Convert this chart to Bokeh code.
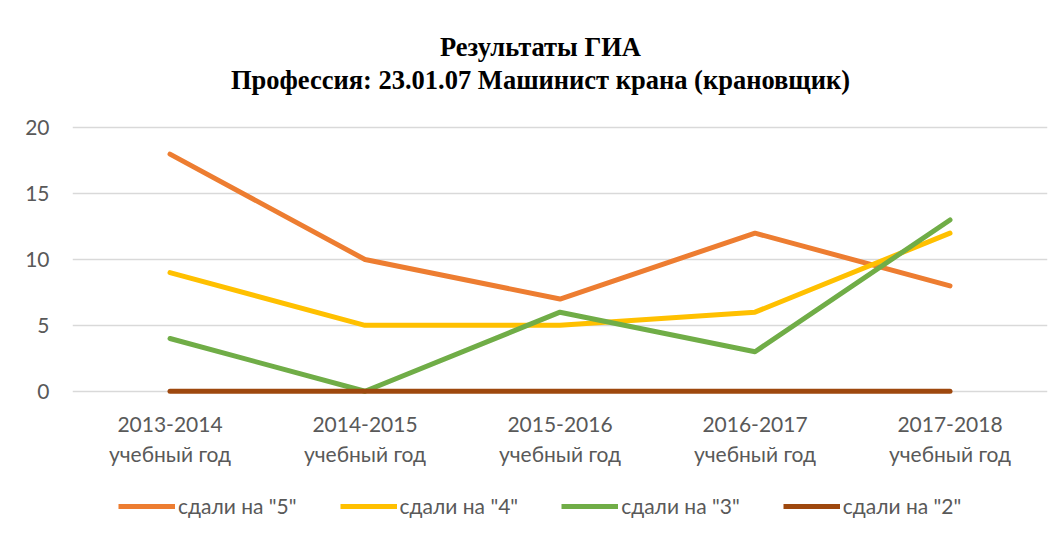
from bokeh.plotting import figure
from bokeh.models import Range1d, FactorRange, Legend, LegendItem, Label, ColumnDataSource
from bokeh.layouts import column
from bokeh.embed import file_html
from bokeh.resources import INLINE

categories = ["2013-2014\nучебный год", "2014-2015\nучебный год", "2015-2016\nучебный год",
              "2016-2017\nучебный год", "2017-2018\nучебный год"]
s5 = [18, 10, 7, 12, 8]
s4 = [9, 5, 5, 6, 12]
s3 = [4, 0, 6, 3, 13]
s2 = [0, 0, 0, 0, 0]
series_names = ['сдали на "5"', 'сдали на "4"', 'сдали на "3"', 'сдали на "2"']
colors = ["#ED7D31", "#FFC000", "#70AD47", "#9E480E"]
y_ticks = [0, 5, 10, 15, 20]
title_lines = ["Результаты ГИА", "Профессия: 23.01.07 Машинист крана (крановщик)"]

FONT = "Lato"
GREY = "#595959"
series = [s5, s4, s3, s2]

# ---- main chart ----
p = figure(frame_width=975, frame_height=376, x_range=FactorRange(*categories, range_padding=0),
           y_range=Range1d(-0.4, 28.14), output_backend="svg", toolbar_location=None,
           min_border_left=72, min_border_right=14, min_border_top=20, min_border_bottom=90)
p.outline_line_color = None
p.background_fill_color = "white"
p.border_fill_color = "white"

for vals, c in zip(series, colors):
    src = ColumnDataSource(dict(x=categories, y=vals))
    p.line("x", "y", source=src, line_color=c, line_width=5, line_join="round", line_cap="round")

p.yaxis.ticker = y_ticks
p.yaxis.axis_line_color = None
p.yaxis.major_tick_line_color = None
p.yaxis.minor_tick_line_color = None
p.yaxis.major_label_text_font = FONT
p.yaxis.major_label_text_font_size = "21px"
p.yaxis.major_label_text_color = GREY
p.yaxis.major_label_standoff = 17

p.xaxis.axis_line_color = None
p.xaxis.major_tick_line_color = None
p.xaxis.major_label_text_font = FONT
p.xaxis.major_label_text_font_size = "21px"
p.xaxis.major_label_text_color = GREY
p.xaxis.major_label_standoff = 8
p.xaxis.major_label_text_line_height = 1.2

p.xgrid.grid_line_color = None
p.ygrid.grid_line_color = "#D9D9D9"
p.ygrid.grid_line_width = 1.5
p.ygrid.ticker = y_ticks

for txt, yv in zip(title_lines, [26.1, 23.6]):
    p.add_layout(Label(x=2.4, y=yv, text=txt, text_align="center", text_baseline="middle",
                       text_font="Liberation Serif", text_font_size="26.5px", text_font_style="bold",
                       text_color="black"))

# ---- legend strip ----
lg = figure(width=1061, height=48, x_range=FactorRange(*categories, range_padding=0),
            y_range=Range1d(100, 101), output_backend="svg", toolbar_location=None,
            x_axis_location=None, y_axis_location=None, min_border=0)
lg.outline_line_color = None
lg.grid.visible = False
lg.border_fill_color = "white"

lg_lines = []
for vals, c in zip(series, colors):
    src = ColumnDataSource(dict(x=categories, y=vals))
    lg_lines.append(lg.line("x", "y", source=src, line_color=c, line_width=5))

legend = Legend(items=[LegendItem(label=n, renderers=[r]) for n, r in zip(series_names, lg_lines)],
                orientation="horizontal", location=(46, 16), border_line_color=None,
                label_text_font=FONT, label_text_font_size="21px", label_text_color=GREY,
                glyph_width=57, glyph_height=20, spacing=43, label_standoff=3,
                margin=0, padding=0, background_fill_alpha=0)
lg.add_layout(legend, "center")

layout = column(p, lg, spacing=0)
open("out.html", "w").write(file_html(layout, INLINE))
